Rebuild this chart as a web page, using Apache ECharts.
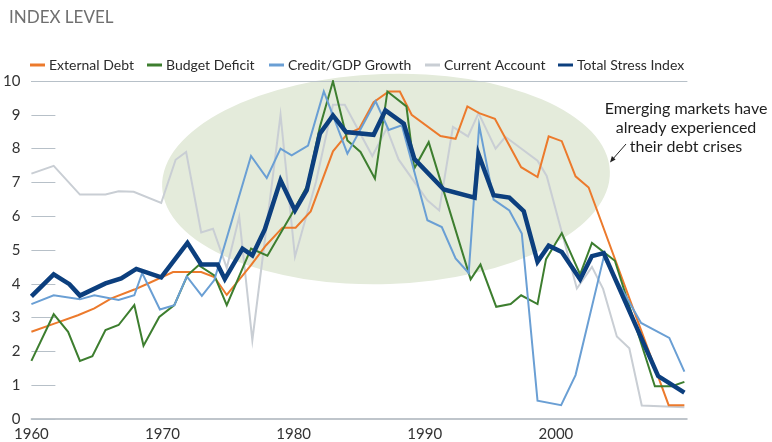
<!DOCTYPE html>
<html>
<head>
<meta charset="utf-8">
<script src="https://cdn.jsdelivr.net/npm/echarts@6/dist/echarts.min.js"></script>
<style>
  html, body { margin: 0; padding: 0; background: #fff; }
  #chart { width: 772px; height: 442px; }
</style>
</head>
<body>
<div id="chart"></div>
<script>
// [year, index level]
const externalDebt = [
  [1960, 2.58], [1961.8, 2.83], [1963.55, 3.07], [1964.8, 3.27], [1966.1, 3.57],
  [1967.85, 3.83], [1968.9, 4.01], [1970.8, 4.35], [1972.95, 4.35], [1973.95, 4.2],
  [1974.9, 3.67], [1976.75, 4.55], [1977.9, 5.14], [1979.15, 5.66], [1980.15, 5.66],
  [1981.3, 6.14], [1983.0, 7.92], [1984.1, 8.44], [1985.0, 8.59], [1986.1, 9.37],
  [1987.25, 9.69], [1988.1, 9.69], [1989.0, 9.0], [1991.2, 8.37], [1992.35, 8.29],
  [1993.25, 9.25], [1994.15, 9.05], [1995.35, 8.88], [1997.35, 7.45], [1998.6, 7.16],
  [1999.45, 8.36], [2000.45, 8.22], [2001.5, 7.18], [2002.5, 6.85], [2008.6, 0.41],
  [2009.8, 0.41]
];
const budgetDeficit = [
  [1960, 1.72], [1961.7, 3.10], [1962.8, 2.58], [1963.7, 1.72], [1964.65, 1.86],
  [1965.65, 2.63], [1966.65, 2.78], [1967.85, 3.37], [1968.55, 2.17], [1969.75, 3.02],
  [1970.9, 3.37], [1971.9, 4.25], [1972.75, 4.55], [1973.95, 4.25], [1974.9, 3.37],
  [1976.75, 5.04], [1978.0, 4.83], [1979.8, 6.03], [1981.05, 6.91], [1982.0, 8.64],
  [1983.0, 9.99], [1984.1, 8.24], [1985.1, 7.90], [1986.2, 7.11], [1987.15, 9.69],
  [1988.6, 9.25], [1989.2, 7.41], [1990.3, 8.19], [1993.5, 4.13], [1994.25, 4.57],
  [1995.45, 3.32], [1996.55, 3.40], [1997.35, 3.66], [1998.6, 3.40], [1999.25, 4.73],
  [2000.45, 5.50], [2001.85, 4.28], [2002.75, 5.21], [2004.5, 4.68], [2007.55, 0.97],
  [2008.85, 0.97], [2009.8, 1.10]
];
const creditGrowth = [
  [1960, 3.40], [1961.7, 3.66], [1963.7, 3.54], [1964.8, 3.66], [1966.65, 3.52],
  [1967.85, 3.66], [1968.45, 4.32], [1969.8, 3.24], [1970.9, 3.37], [1971.85, 4.22],
  [1973.0, 3.64], [1973.95, 4.11], [1976.75, 7.78], [1977.95, 7.13], [1979.0, 8.0],
  [1979.85, 7.80], [1981.1, 8.09], [1982.3, 9.69], [1984.1, 7.85], [1986.25, 9.40],
  [1987.25, 8.55], [1988.25, 8.69], [1990.2, 5.88], [1991.3, 5.68], [1992.35, 4.75],
  [1993.35, 4.32], [1994.15, 8.69], [1995.25, 6.49], [1996.45, 6.17], [1997.4, 5.49],
  [1998.6, 0.54], [2000.4, 0.41], [2001.5, 1.30], [2003.65, 4.79], [2006.5, 2.84],
  [2008.65, 2.40], [2009.8, 1.40]
];
const currentAccount = [
  [1960, 7.26], [1961.7, 7.49], [1963.7, 6.64], [1965.65, 6.64], [1966.65, 6.74],
  [1967.8, 6.72], [1969.9, 6.39], [1971.0, 7.67], [1971.8, 7.90], [1972.95, 5.52],
  [1973.85, 5.63], [1974.9, 4.47], [1975.85, 5.98], [1976.85, 2.33], [1979.0, 9.0],
  [1980.1, 4.80], [1981.7, 7.01], [1983.0, 9.30], [1983.9, 9.30], [1986.0, 7.78],
  [1987.1, 8.6], [1988.0, 7.68], [1990.2, 6.47], [1991.1, 6.17], [1992.15, 8.64],
  [1993.3, 8.36], [1994.1, 9.05], [1995.4, 8.0], [1996.15, 8.35], [1998.6, 7.64],
  [1999.3, 7.19], [2001.6, 3.86], [2002.75, 4.5], [2003.6, 3.85], [2004.65, 2.44],
  [2005.6, 2.09], [2006.55, 0.40], [2009.8, 0.35]
];
const totalStress = [
  [1960, 3.63], [1961.7, 4.28], [1962.9, 3.99], [1963.7, 3.65], [1965.65, 4.01],
  [1966.85, 4.16], [1968.0, 4.44], [1969.9, 4.19], [1971.9, 5.21], [1972.95, 4.57],
  [1974.2, 4.57], [1974.75, 4.14], [1976.1, 5.04], [1976.85, 4.84], [1977.8, 5.61],
  [1979.0, 7.06], [1980.1, 6.17], [1981.0, 6.77], [1982.0, 8.44], [1983.0, 8.98],
  [1984.0, 8.49], [1986.1, 8.41], [1987.0, 9.13], [1988.4, 8.74], [1989.2, 7.70],
  [1991.45, 6.79], [1993.8, 6.55], [1994.1, 7.83], [1995.25, 6.62], [1996.45, 6.55],
  [1997.55, 6.15], [1998.6, 4.65], [1999.45, 5.13], [2000.45, 4.94], [2001.85, 4.13],
  [2002.75, 4.82], [2003.65, 4.91], [2007.8, 1.27], [2009.8, 0.78]
];

const seriesNames = ['External Debt', 'Budget Deficit', 'Credit/GDP Growth', 'Current Account', 'Total Stress Index'];
const seriesColors = ['#ec7a2c', '#3d7e2f', '#6a9fd4', '#c9ced4', '#0c3f7e'];
const seriesData = [externalDebt, budgetDeficit, creditGrowth, currentAccount, totalStress];
const legendLeft = [30, 147, 269, 425, 558];
const annotation = 'Emerging markets have\nalready experienced\ntheir debt crises';

const chart = echarts.init(document.getElementById('chart'));

const legends = seriesNames.map((name, i) => ({
  data: [name],
  left: legendLeft[i],
  top: 58,
  padding: 0,
  icon: 'rect',
  itemWidth: 15,
  itemHeight: 3,
  itemGap: 4,
  selectedMode: false,
  textStyle: { fontFamily: 'Lato', fontSize: 14, color: '#2b2b2b', padding: [0, 0, 0, -1] }
}));

const series = seriesNames.map((name, i) => ({
  name: name,
  type: 'line',
  data: seriesData[i],
  showSymbol: false,
  symbol: 'none',
  z: i === 3 ? 2 : (i === 4 ? 6 : 3 + i * 0.1),
  lineStyle: { color: seriesColors[i], width: i === 4 ? 4.5 : 2, join: 'miter' },
  itemStyle: { color: seriesColors[i] },
  animation: false
}));

const option = {
  animation: false,
  title: {
    text: 'INDEX LEVEL',
    left: 9,
    top: 9,
    padding: 0,
    textStyle: { fontFamily: 'Lato', fontSize: 17, fontWeight: 'normal', color: '#6f6f6f' }
  },
  legend: legends,
  grid: { left: 30, right: 85, top: 81, bottom: 23, containLabel: false },
  xAxis: [
    {
      type: 'value',
      min: 1960,
      max: 2010,
      interval: 10,
      axisLine: { show: true, lineStyle: { color: '#aab3bb', width: 1.5 } },
      axisTick: { show: false },
      splitLine: { show: false },
      axisLabel: {
        fontFamily: 'Lato',
        fontSize: 15,
        color: '#333',
        margin: 8,
        formatter: (v) => (v === 2010 ? '' : String(v))
      }
    },
    {
      type: 'value',
      position: 'top',
      min: 1960,
      max: 2010,
      axisLine: { show: true, lineStyle: { color: '#b7c0c8', width: 1 } },
      axisTick: { show: false },
      axisLabel: { show: false },
      splitLine: { show: false }
    }
  ],
  yAxis: {
    type: 'value',
    min: 0,
    max: 10,
    interval: 1,
    axisLine: { show: false },
    axisTick: { show: true, inside: true, length: 24, lineStyle: { color: '#b7c0c8', width: 1 } },
    splitLine: { show: false },
    axisLabel: { fontFamily: 'Lato', fontSize: 15, color: '#333', margin: 11 }
  },
  graphic: [
    {
      type: 'circle',
      x: 386,
      y: 179,
      scaleX: 224 / 105,
      rotation: 0.035,
      shape: { cx: 0, cy: 0, r: 105 },
      style: { fill: '#e4ebdb' },
      z: -10,
      silent: true
    },
    {
      type: 'text',
      x: 686,
      y: 99,
      style: {
        text: annotation,
        fontFamily: 'Lato',
        fontSize: 16,
        lineHeight: 19,
        fill: '#1e1e1e',
        textAlign: 'center'
      },
      z: 10
    },
    {
      type: 'line',
      shape: { x1: 626, y1: 144, x2: 612, y2: 160 },
      style: { stroke: '#222', lineWidth: 1 },
      z: 10
    },
    {
      type: 'polygon',
      shape: { points: [[610, 162.5], [615.6, 159.4], [611.9, 156.1]] },
      style: { fill: '#222' },
      z: 10
    }
  ],
  series: series
};

chart.setOption(option);
</script>
</body>
</html>
